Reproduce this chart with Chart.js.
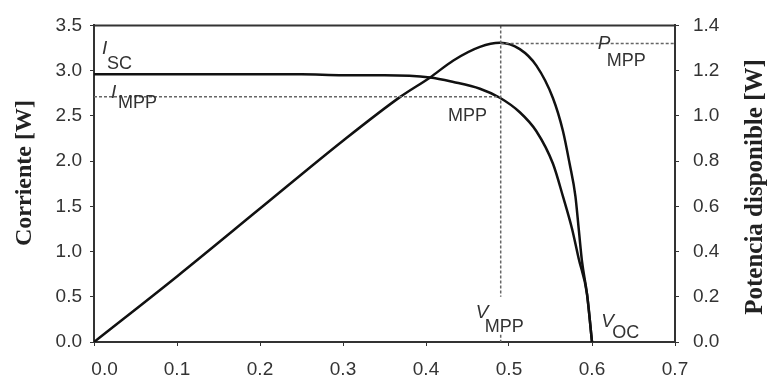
<!DOCTYPE html>
<html>
<head>
<meta charset="utf-8">
<script src="https://cdn.jsdelivr.net/npm/chart.js@4"></script>
<style>
  body { margin: 0; background: #fff; }
  canvas { display: block; }
</style>
</head>
<body>
<canvas id="ivCurve" width="768" height="385"></canvas>
<script>
// curva I-V (eje izquierdo)
const voltsI  = [0, 0.1, 0.2, 0.25, 0.3, 0.35, 0.405, 0.433, 0.465, 0.489, 0.513, 0.533, 0.553, 0.565, 0.576, 0.584, 0.594, 0.6];
const current = [2.96, 2.96, 2.96, 2.96, 2.95, 2.95, 2.925, 2.875, 2.80, 2.70, 2.54, 2.33, 1.97, 1.61, 1.25, 0.92, 0.53, 0];

// curva P-V (eje derecho)
const voltsP = [0, 0.1, 0.2, 0.3, 0.369, 0.405, 0.433, 0.465, 0.489, 0.513, 0.533, 0.553, 0.565, 0.573, 0.58, 0.584, 0.588, 0.594, 0.6];
const power  = [0, 0.29, 0.59, 0.89, 1.084, 1.17, 1.245, 1.305, 1.323, 1.295, 1.222, 1.078, 0.933, 0.789, 0.645, 0.5, 0.355, 0.212, 0];

// punto de maxima potencia
const vMpp = 0.49;
const iMpp = 2.71;
const pMpp = 1.32;
const vmppLineEnd = 0.5;
const vmppStub = 0.08;

// etiquetas (ancla en unidades del eje izquierdo)
const labelMain = ['I', 'I', '', 'P', 'V', 'V'];
const labelSub  = ['SC', 'MPP', 'MPP', 'MPP', 'MPP', 'OC'];
const labelX    = [0.0096, 0.0205, 0.4265, 0.607, 0.460, 0.611];
const labelY    = [3.186, 2.698, 2.438, 3.24, 0.26, 0.163];
const subDx     = [5, 7, 0, 9, 9, 11];
const subDy     = [15, 10, 0, 17, 14, 11];

const titleLeft = 'Corriente [W]';
const titleRight = 'Potencia disponible [W]';

const ink = '#333';
const tickFont = { family: '"Liberation Sans", Arial, sans-serif', size: 19 };

function pts(xs, ys) {
  return xs.map((x, i) => ({ x: x, y: ys[i] }));
}

const dotted = {
  borderColor: '#666',
  borderWidth: 1.5,
  borderDash: [3, 2],
  pointRadius: 0,
  showLine: true,
  fill: false
};

const frameAndText = {
  id: 'frameAndText',
  afterDraw(chart) {
    const { ctx, chartArea: a, scales } = chart;
    ctx.save();

    // borde superior
    ctx.strokeStyle = ink;
    ctx.lineWidth = 2;
    ctx.beginPath();
    ctx.moveTo(a.left, a.top);
    ctx.lineTo(a.right, a.top);
    ctx.stroke();

    // titulos de ejes
    ctx.fillStyle = '#222';
    ctx.textAlign = 'center';
    ctx.textBaseline = 'middle';
    ctx.font = 'bold 24px "Liberation Serif", "Times New Roman", serif';
    ctx.save();
    ctx.translate(25, 173);
    ctx.rotate(-Math.PI / 2);
    ctx.fillText(titleLeft, 0, 0);
    ctx.restore();

    ctx.font = 'bold 25px "Liberation Serif", "Times New Roman", serif';
    ctx.save();
    ctx.translate(756, 187);
    ctx.rotate(-Math.PI / 2);
    ctx.fillText(titleRight, 0, 0);
    ctx.restore();

    // etiquetas Isc, Impp, MPP ...
    ctx.textAlign = 'left';
    ctx.textBaseline = 'alphabetic';
    ctx.fillStyle = ink;
    for (let i = 0; i < labelSub.length; i++) {
      let px = scales.x.getPixelForValue(labelX[i]);
      let py = scales.y.getPixelForValue(labelY[i]);
      if (labelMain[i]) {
        ctx.font = 'italic 19px "Liberation Sans", Arial, sans-serif';
        ctx.fillText(labelMain[i], px, py);
      }
      ctx.font = '18px "Liberation Sans", Arial, sans-serif';
      ctx.fillText(labelSub[i], px + subDx[i], py + subDy[i]);
    }
    ctx.restore();
  }
};

const ctx = document.getElementById('ivCurve');

new Chart(ctx, {
  type: 'scatter',
  data: {
    datasets: [
      Object.assign({ data: [{ x: 0, y: iMpp }, { x: vMpp, y: iMpp }], yAxisID: 'y' }, dotted),
      Object.assign({ data: [{ x: vMpp, y: 3.5 }, { x: vMpp, y: vmppLineEnd }], yAxisID: 'y' }, dotted),
      Object.assign({ data: [{ x: vMpp, y: vmppStub }, { x: vMpp, y: 0 }], yAxisID: 'y' }, dotted),
      Object.assign({ data: [{ x: vMpp, y: pMpp }, { x: 0.7, y: pMpp }], yAxisID: 'y2' }, dotted),
      {
        label: 'Corriente',
        data: pts(voltsI, current),
        yAxisID: 'y',
        showLine: true,
        borderColor: '#111',
        borderWidth: 2.5,
        pointRadius: 0,
        cubicInterpolationMode: 'monotone'
      },
      {
        label: 'Potencia',
        data: pts(voltsP, power),
        yAxisID: 'y2',
        showLine: true,
        borderColor: '#111',
        borderWidth: 2.5,
        pointRadius: 0,
        cubicInterpolationMode: 'monotone'
      }
    ]
  },
  options: {
    responsive: false,
    animation: false,
    layout: { padding: { top: 19, left: 0, right: 0, bottom: 0 } },
    plugins: {
      legend: { display: false },
      tooltip: { enabled: false }
    },
    scales: {
      x: {
        type: 'linear',
        min: 0,
        max: 0.7,
        afterFit: function(scale) { scale.height = 43; },
        ticks: {
          stepSize: 0.1,
          color: ink,
          font: tickFont,
          padding: 12,
          maxRotation: 0,
          callback: function(v) { return v === 0 ? '    0.0' : v.toFixed(1); }
        },
        grid: { drawOnChartArea: false, tickLength: 4, color: ink },
        border: { color: ink, width: 2 }
      },
      y: {
        position: 'left',
        min: 0,
        max: 3.5,
        afterFit: function(scale) { scale.width = 94; },
        ticks: {
          stepSize: 0.5,
          color: ink,
          font: tickFont,
          padding: 8,
          callback: function(v) { return v.toFixed(1); }
        },
        grid: { drawOnChartArea: false, tickLength: 4, color: ink },
        border: { color: ink, width: 2 }
      },
      y2: {
        position: 'right',
        min: 0,
        max: 1.4,
        afterFit: function(scale) { scale.width = 93; },
        ticks: {
          stepSize: 0.2,
          color: ink,
          font: tickFont,
          padding: 14,
          callback: function(v) { return v.toFixed(1); }
        },
        grid: { drawOnChartArea: false, tickLength: 4, color: ink },
        border: { color: ink, width: 2 }
      }
    }
  },
  plugins: [frameAndText]
});
</script>
</body>
</html>
